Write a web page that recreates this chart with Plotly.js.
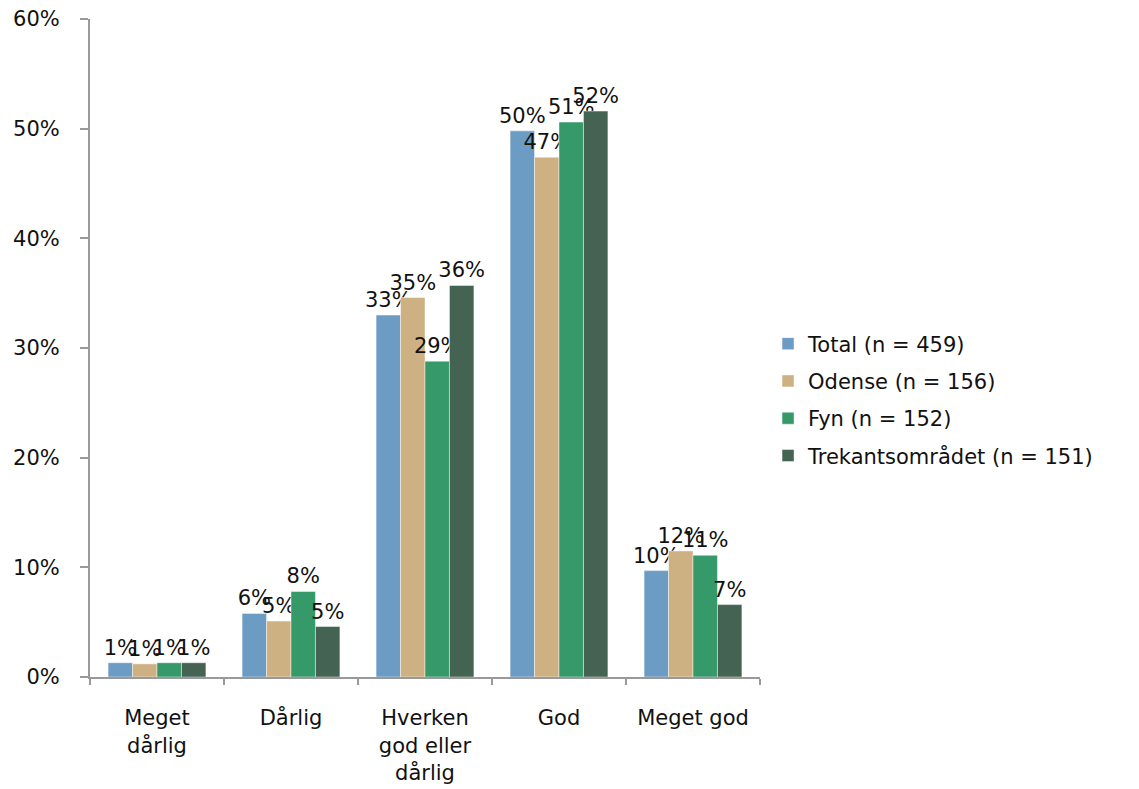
<!DOCTYPE html>
<html>
<head>
<meta charset="utf-8">
<script src="https://cdn.plot.ly/plotly-3.0.1.min.js"></script>
<style>
  html, body { margin: 0; padding: 0; background: #fff; }
  #chart { width: 1139px; height: 789px; }
</style>
</head>
<body>
<div id="chart"></div>
<script>
// Svarkategorier (x-akse)
const categories = ['Meget<br>dårlig', 'Dårlig', 'Hverken<br>god eller<br>dårlig', 'God', 'Meget god'];

// Andele i procent pr. område
const total = [1.3, 5.8, 33.0, 49.8, 9.7];
const odense = [1.2, 5.1, 34.6, 47.4, 11.5];
const fyn = [1.3, 7.8, 28.8, 50.6, 11.1];
const trekant = [1.3, 4.6, 35.7, 51.6, 6.6];

const seriesNames = ['Total (n = 459)', 'Odense (n = 156)', 'Fyn (n = 152)', 'Trekantsområdet (n = 151)'];
const seriesValues = [total, odense, fyn, trekant];
const colors = ['#6C9BC4', '#CEB183', '#35996A', '#456352'];

const fontFamily = 'Verdana, "DejaVu Sans", sans-serif';
const fontSize = 21;

const traces = seriesValues.map((vals, i) => ({
  type: 'bar',
  name: seriesNames[i],
  x: categories,
  y: vals,
  legendgroup: 'g' + i,
  marker: { color: colors[i], line: { color: 'rgba(255,255,255,0.45)', width: 1 } },
  text: vals.map(v => Math.round(v) + '%'),
  textposition: 'outside',
  constraintext: 'none',
  cliponaxis: false,
  textfont: { family: fontFamily, size: fontSize, color: '#111' },
  hoverinfo: 'skip'
}));

const layout = {
  width: 1139,
  height: 789,
  margin: { l: 90, r: 379, t: 19, b: 112 },
  paper_bgcolor: '#fff',
  plot_bgcolor: '#fff',
  barmode: 'group',
  bargap: 0.27,
  bargroupgap: 0,
  showlegend: true,
  font: { family: fontFamily, size: fontSize, color: '#111' },
  legend: {
    x: 1.012,
    xanchor: 'left',
    y: 0.421,
    yanchor: 'middle',
    font: { family: fontFamily, size: fontSize, color: '#111' },
    tracegroupgap: 7,
    itemwidth: 30,
    bgcolor: 'rgba(0,0,0,0)'
  },
  xaxis: {
    type: 'category',
    showline: true,
    linecolor: '#999',
    linewidth: 2,
    ticks: 'outside',
    tickson: 'boundaries',
    ticklen: 6,
    tickwidth: 2,
    tickcolor: '#999',
    showgrid: false,
    ticklabelstandoff: 21,
    tickfont: { family: fontFamily, size: fontSize, color: '#111' }
  },
  yaxis: {
    range: [0, 60],
    dtick: 10,
    ticksuffix: '%',
    showline: true,
    linecolor: '#999',
    linewidth: 2,
    ticks: 'outside',
    ticklen: 8,
    tickwidth: 2,
    tickcolor: '#999',
    showgrid: false,
    zeroline: false,
    ticklabelstandoff: 16,
    tickfont: { family: fontFamily, size: fontSize, color: '#111' }
  }
};

Plotly.newPlot('chart', traces, layout, { displayModeBar: false, staticPlot: true });
</script>
</body>
</html>
